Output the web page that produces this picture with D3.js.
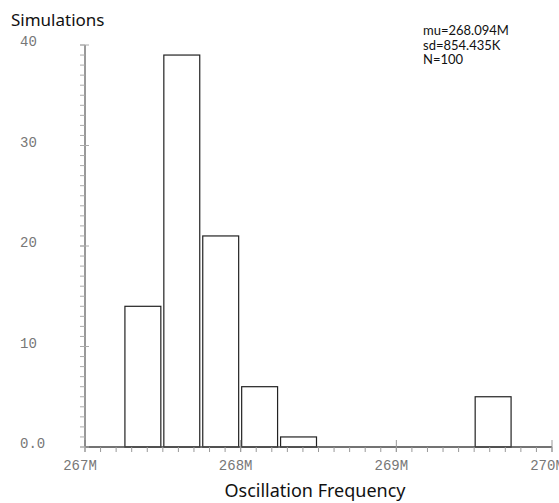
<!DOCTYPE html>
<html><head><meta charset="utf-8">
<script src="https://cdn.jsdelivr.net/npm/d3@7"></script>
<style>body{margin:0;background:#fff}svg{display:block}</style>
</head><body>
<script>
const binStarts = [267.25, 267.5, 267.75, 268.0, 268.25, 269.5];
const binWidth = 0.25;
const counts = [14, 39, 21, 6, 1, 5];
const xTickValues = [267, 268, 269, 270];
const xTickLabels = ["267M", "268M", "269M", "270M"];
const yTickValues = [0, 10, 20, 30, 40];
const yTickLabels = ["0.0", "10", "20", "30", "40"];
const statsLines = ["mu=268.094M", "sd=854.435K", "N=100"];
const yTitle = "Simulations";
const xTitle = "Oscillation Frequency";

const W = 559, H = 503;
const svg = d3.select("body").append("svg").attr("width", W).attr("height", H);
const x = d3.scaleLinear().domain([267, 270]).range([85, 552]);
const y = d3.scaleLinear().domain([0, 40]).range([447, 45]);

const sans = "'Noto Sans', 'DejaVu Sans', sans-serif";
const statFont = "Lato, 'Noto Sans', sans-serif";
const mono = "'Liberation Mono', 'DejaVu Sans Mono', monospace";

// bars
svg.append("g").selectAll("rect").data(counts).join("rect")
  .attr("x", (d, i) => x(binStarts[i]) + 1)
  .attr("width", (d, i) => x(binStarts[i] + binWidth) - x(binStarts[i]) - 3)
  .attr("y", d => y(d))
  .attr("height", d => y(0) - y(d))
  .attr("fill", "#fff").attr("stroke", "#222").attr("stroke-width", 1.2);

// x axis
const gx = svg.append("g");
gx.append("line").attr("x1", x(267)).attr("x2", x(270)).attr("y1", y(0)).attr("y2", y(0))
  .attr("stroke", "#444").attr("stroke-width", 1.5);
const xMinor = d3.range(0, 31).map(i => 267 + i / 10);
gx.selectAll("line.minor").data(xMinor).join("line").attr("class", "minor")
  .attr("x1", d => x(d)).attr("x2", d => x(d)).attr("y1", y(0)).attr("y2", y(0) + 5)
  .attr("stroke", "#999");
gx.selectAll("line.major").data(xTickValues).join("line").attr("class", "major")
  .attr("x1", d => x(d)).attr("x2", d => x(d)).attr("y1", y(0) - 7).attr("y2", y(0) + 5)
  .attr("stroke", "#999");
gx.selectAll("text").data(xTickValues).join("text")
  .attr("x", d => x(d) - 5).attr("y", 470)
  .attr("text-anchor", "middle").attr("font-family", mono).attr("font-size", 14)
  .attr("fill", "#777").text((d, i) => xTickLabels[i]);

// y axis
const gy = svg.append("g");
gy.append("line").attr("x1", 85).attr("x2", 85).attr("y1", y(40)).attr("y2", y(0))
  .attr("stroke", "#777").attr("stroke-width", 1.5);
const yMinor = d3.range(0, 41);
gy.selectAll("line.minor").data(yMinor).join("line").attr("class", "minor")
  .attr("x1", 80).attr("x2", 85).attr("y1", d => y(d)).attr("y2", d => y(d))
  .attr("stroke", "#aaa");
gy.selectAll("line.major").data(yTickValues).join("line").attr("class", "major")
  .attr("x1", 80).attr("x2", 89).attr("y1", d => y(d)).attr("y2", d => y(d))
  .attr("stroke", "#aaa");
gy.selectAll("text").data(yTickValues).join("text")
  .attr("x", 20).attr("y", d => y(d) + 1)
  .attr("font-family", mono).attr("font-size", 14)
  .attr("fill", "#777").text((d, i) => yTickLabels[i]);

// titles
svg.append("text").attr("x", 11).attr("y", 26).attr("font-family", sans)
  .attr("font-size", 17).attr("fill", "#111").text(yTitle);
svg.append("text").attr("x", 315).attr("y", 497).attr("text-anchor", "middle")
  .attr("font-family", sans).attr("font-size", 18).attr("fill", "#111").text(xTitle);

svg.append("g").selectAll("text").data(statsLines).join("text")
  .attr("x", 423).attr("y", (d, i) => 35 + i * 14.5)
  .attr("font-family", statFont).attr("font-size", 13).attr("fill", "#111").text(d => d);
</script>
</body></html>
